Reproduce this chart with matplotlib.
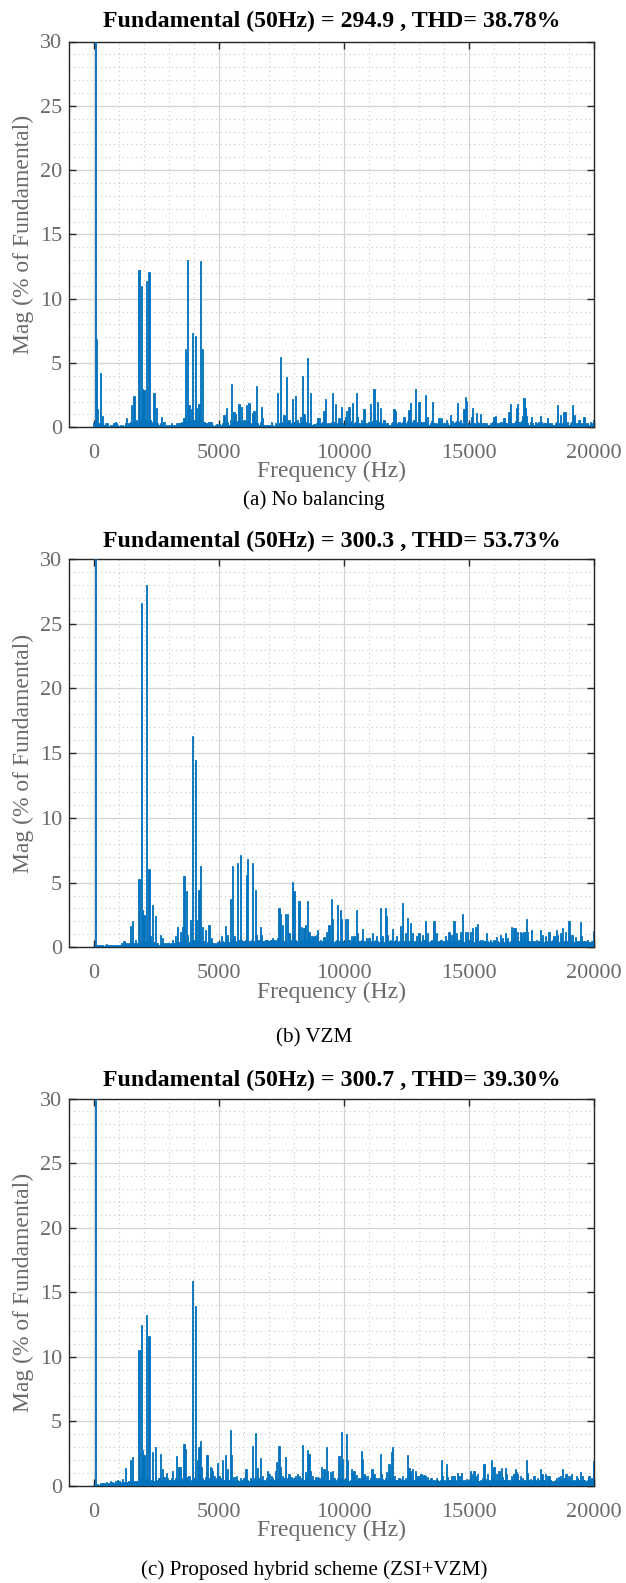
import matplotlib
matplotlib.use("Agg")
import matplotlib.pyplot as plt
from matplotlib.ticker import MultipleLocator
import numpy as np

plt.rcParams['font.family'] = ['Liberation Serif', 'DejaVu Serif']

# FFT bins, 50 Hz resolution (fundamental = bin 1 = 100 %)
freq_hz = list(range(0, 20001, 50))

mag_no_balancing = [
    0.3, 100, 6.9, 1.4, 0.3, 4.2, 0.3, 0.9, 0.2, 0.3, 0.1, 0.3, 0.1, 0.2, 0.1, 0.2, 0.3, 0.4, 0.3, 0.2,
    0.1, 0.2, 0.1, 0.2, 0.1, 0.3, 0.75, 0.2, 0.3, 0.4, 1.7, 0.3, 2.4, 0.4, 0.6, 0.3, 12.2, 0.5, 11.0, 2.95,
    2.9, 0.6, 11.4, 0.5, 12.1, 0.6, 0.3, 0.4, 2.65, 0.3, 1.5, 0.3, 0.2, 0.3, 0.8, 0.2, 0.4, 0.1, 0.2, 0.1,
    0.2, 0.1, 0.3, 0.2, 0.2, 0.1, 0.3, 0.2, 0.35, 0.3, 0.4, 0.3, 0.7, 6.1, 0.4, 13.0, 1.7, 0.5, 1.4, 7.3,
    0.6, 7.1, 1.5, 0.5, 1.85, 12.9, 0.6, 6.1, 0.45, 0.3, 0.3, 0.2, 0.45, 0.4, 0.45, 0.2, 0.1, 0.2, 0.25, 0.2,
    0.25, 0.1, 0.2, 0.3, 0.95, 0.3, 1.5, 0.4, 0.2, 0.6, 3.35, 0.4, 1.2, 1.05, 0.3, 0.5, 1.8, 0.4, 1.6, 0.3,
    0.6, 0.3, 1.75, 0.5, 1.9, 0.3, 0.2, 1.1, 1.3, 0.4, 3.2, 0.3, 0.2, 0.4, 1.6, 0.7, 0.2, 0.1, 0.2, 0.15,
    0.2, 0.1, 0.4, 0.2, 0.1, 0.3, 0.2, 2.7, 0.3, 5.5, 0.4, 0.3, 0.95, 0.3, 3.9, 0.4, 0.6, 0.2, 0.3, 2.2,
    0.4, 2.45, 0.3, 0.6, 0.3, 0.8, 0.3, 4.0, 1.05, 0.3, 0.4, 5.35, 0.3, 2.7, 0.2, 0.2, 0.25, 0.2, 0.3, 0.7,
    0.7, 0.3, 0.2, 0.4, 1.3, 2.2, 0.35, 0.2, 0.3, 0.2, 0.4, 2.65, 0.4, 1.85, 0.3, 0.2, 0.7, 0.3, 1.6, 0.3,
    0.2, 0.8, 1.3, 0.4, 1.55, 0.3, 0.5, 1.9, 0.3, 0.4, 2.7, 0.8, 0.3, 0.2, 0.55, 0.3, 1.4, 0.3, 0.3, 0.2,
    0.4, 1.85, 0.3, 0.5, 2.95, 0.6, 0.3, 1.95, 0.4, 1.5, 0.3, 0.2, 0.6, 0.2, 0.3, 0.3, 0.2, 0.1, 0.3, 0.4,
    1.4, 1.3, 0.3, 0.2, 0.45, 0.3, 0.2, 0.4, 0.8, 0.3, 0.2, 0.5, 1.35, 1.9, 0.4, 0.3, 0.6, 3.0, 0.4, 0.3,
    1.95, 0.4, 0.45, 0.3, 0.4, 2.55, 0.3, 0.8, 0.2, 0.3, 0.5, 1.95, 0.3, 0.2, 0.3, 0.2, 0.75, 0.3, 0.7, 0.2,
    0.3, 0.2, 0.6, 0.3, 0.2, 0.95, 0.3, 0.5, 0.3, 0.4, 0.5, 1.9, 0.4, 0.6, 0.3, 0.2, 1.4, 2.35, 2.05, 0.3,
    0.2, 0.3, 0.8, 1.5, 0.3, 0.2, 1.1, 0.4, 0.3, 1.05, 0.2, 0.3, 0.3, 0.2, 0.35, 0.2, 0.2, 0.3, 0.2, 0.4,
    0.8, 0.9, 0.3, 0.2, 0.3, 0.45, 0.2, 0.4, 0.7, 0.3, 0.3, 0.2, 1.2, 1.85, 0.35, 0.2, 0.3, 0.5, 1.5, 1.8,
    0.4, 0.3, 0.5, 0.9, 2.3, 1.5, 0.9, 0.3, 0.2, 0.4, 0.8, 0.3, 0.2, 0.45, 0.3, 0.2, 0.4, 0.9, 0.45, 0.2,
    0.3, 0.35, 0.2, 0.7, 0.3, 0.2, 0.3, 0.2, 0.2, 0.3, 0.4, 1.7, 0.3, 0.95, 0.2, 0.3, 1.2, 1.2, 0.3, 0.45,
    0.2, 0.3, 0.4, 1.7, 0.95, 0.3, 0.2, 0.3, 0.6, 0.35, 0.2, 0.3, 0.8, 0.2, 0.3, 0.35, 0.2, 0.45, 0.3, 0.2,
    0.6,
]

mag_vzm = [
    0.1, 100, 0.2, 0.15, 0.2, 0.1, 0.15, 0.2, 0.1, 0.15, 0.25, 0.1, 0.15, 0.2, 0.1, 0.2, 0.15, 0.1, 0.15, 0.1,
    0.15, 0.2, 0.3, 0.2, 0.5, 0.3, 0.35, 0.2, 0.3, 1.65, 0.4, 2.05, 0.3, 0.6, 0.2, 0.3, 5.25, 0.5, 26.6, 2.85,
    2.5, 0.4, 28.0, 0.5, 6.05, 0.85, 0.3, 3.25, 0.4, 2.4, 0.3, 0.35, 0.2, 0.95, 0.3, 0.7, 0.3, 0.2, 0.35, 0.3,
    0.3, 0.25, 0.3, 0.6, 0.3, 0.85, 0.4, 1.55, 0.4, 1.15, 0.5, 1.55, 5.5, 0.6, 4.35, 0.95, 0.4, 2.1, 0.5, 16.3,
    0.6, 14.5, 2.1, 0.5, 4.45, 6.3, 0.4, 1.6, 0.5, 1.35, 0.3, 0.4, 1.75, 0.4, 0.7, 0.3, 0.35, 0.2, 0.3, 0.4,
    0.4, 0.3, 0.85, 0.5, 0.4, 1.65, 0.5, 0.95, 0.4, 3.7, 0.5, 6.25, 0.9, 0.4, 0.5, 6.5, 0.6, 7.15, 0.55, 0.4,
    0.5, 0.6, 5.6, 6.85, 0.5, 0.4, 0.6, 6.55, 0.5, 4.4, 0.95, 0.5, 0.6, 1.55, 0.95, 0.5, 0.45, 0.6, 0.55, 0.6,
    0.5, 0.6, 0.55, 0.7, 0.6, 0.5, 0.6, 0.7, 3.0, 2.55, 0.6, 1.75, 0.5, 2.55, 0.4, 2.6, 1.1, 0.5, 0.6, 5.05,
    4.35, 0.55, 0.5, 0.4, 3.6, 0.5, 1.6, 0.6, 1.5, 1.75, 0.5, 3.6, 1.2, 0.6, 0.85, 0.7, 0.85, 0.5, 0.95, 1.35,
    0.5, 0.55, 0.4, 0.5, 0.8, 0.5, 1.15, 0.6, 1.75, 0.5, 3.7, 2.15, 0.4, 0.5, 0.6, 3.3, 0.5, 2.9, 2.15, 0.5,
    0.4, 2.15, 0.5, 2.2, 0.6, 0.4, 0.85, 0.5, 0.85, 0.4, 2.85, 1.1, 0.5, 0.4, 0.6, 1.4, 0.5, 0.4, 0.7, 0.5,
    0.7, 0.4, 0.5, 1.1, 0.5, 0.6, 0.9, 0.5, 0.4, 3.0, 0.5, 0.9, 0.4, 3.05, 2.45, 0.95, 0.5, 0.6, 0.4, 1.4,
    0.5, 0.6, 0.85, 0.4, 0.5, 1.65, 0.6, 3.4, 0.5, 1.1, 0.4, 2.25, 0.5, 1.9, 0.6, 1.1, 0.5, 0.4, 0.85, 0.5,
    1.1, 0.5, 0.4, 0.95, 0.6, 2.0, 0.5, 1.1, 0.4, 0.5, 0.6, 0.4, 2.0, 0.5, 1.1, 0.4, 0.5, 0.6, 0.55, 0.4,
    0.5, 0.85, 0.4, 0.6, 1.2, 0.5, 0.95, 0.4, 2.0, 0.5, 1.1, 0.4, 0.6, 1.15, 0.5, 2.55, 0.4, 1.2, 0.5, 1.2,
    0.6, 1.2, 0.5, 1.5, 0.4, 1.55, 0.6, 1.8, 0.5, 0.55, 0.4, 0.6, 0.5, 0.4, 1.1, 0.5, 0.4, 0.55, 0.4, 0.3,
    0.6, 0.4, 0.8, 0.5, 0.4, 0.95, 0.5, 0.7, 0.4, 1.1, 0.5, 0.7, 0.4, 0.5, 1.55, 0.6, 1.5, 1.5, 0.5, 1.15,
    0.5, 1.2, 1.1, 0.6, 1.2, 0.5, 2.15, 1.15, 0.5, 0.4, 1.35, 0.5, 0.45, 0.3, 0.55, 0.4, 0.5, 1.35, 0.5, 0.95,
    0.4, 0.85, 0.5, 0.4, 1.2, 0.5, 0.4, 0.55, 0.9, 0.5, 1.35, 0.95, 0.4, 1.1, 0.95, 1.5, 0.5, 1.2, 0.5, 0.4,
    2.0, 0.95, 0.5, 0.95, 0.4, 0.8, 0.5, 0.4, 0.5, 1.95, 0.85, 0.4, 0.5, 0.5, 0.3, 0.55, 0.4, 0.3, 0.45, 0.5,
    1.25,
]

mag_hybrid = [
    0.1, 100, 0.1, 0.15, 0.1, 0.2, 0.15, 0.25, 0.2, 0.1, 0.3, 0.15, 0.2, 0.4, 0.2, 0.3, 0.2, 0.35, 0.2, 0.5,
    0.35, 0.3, 0.2, 0.55, 0.3, 1.4, 0.3, 0.2, 0.4, 2.05, 0.5, 2.25, 0.4, 0.3, 0.4, 0.3, 10.5, 0.6, 12.5, 2.8,
    2.4, 0.5, 13.25, 0.6, 11.65, 0.4, 0.5, 2.6, 0.4, 3.0, 0.5, 0.4, 0.6, 2.5, 0.5, 1.35, 0.7, 0.4, 1.0, 0.6,
    0.5, 0.4, 0.6, 1.2, 0.5, 0.6, 2.3, 0.5, 1.45, 1.45, 0.6, 0.5, 3.25, 2.9, 0.7, 0.5, 0.8, 0.4, 0.5, 15.9,
    0.6, 13.9, 0.5, 2.0, 3.0, 3.5, 1.45, 0.6, 0.5, 0.7, 2.4, 2.4, 0.6, 1.5, 1.4, 1.2, 0.8, 0.5, 0.6, 1.75,
    0.8, 0.5, 0.6, 2.05, 0.5, 2.4, 0.6, 1.35, 0.5, 4.3, 2.4, 0.5, 0.7, 0.4, 0.8, 0.5, 0.4, 0.6, 0.4, 0.5,
    0.6, 1.35, 1.35, 0.5, 0.4, 0.6, 0.5, 3.1, 0.6, 4.1, 0.5, 1.4, 0.6, 2.2, 0.5, 0.8, 0.5, 0.4, 0.6, 1.2,
    0.95, 0.5, 0.8, 0.6, 0.5, 1.15, 1.85, 0.6, 3.1, 1.45, 0.5, 0.75, 0.6, 2.25, 0.5, 0.6, 0.95, 0.5, 0.7, 0.5,
    0.6, 0.8, 0.5, 0.9, 0.8, 0.5, 0.6, 3.15, 0.5, 1.05, 0.6, 2.8, 2.5, 1.2, 0.5, 0.8, 0.5, 0.7, 0.5, 0.7,
    0.6, 0.5, 1.45, 0.6, 1.35, 0.5, 3.05, 1.2, 0.5, 1.05, 0.6, 1.2, 0.6, 0.5, 0.4, 0.6, 2.3, 0.6, 4.2, 2.1,
    0.5, 0.6, 4.0, 2.05, 0.4, 0.5, 1.35, 1.0, 1.2, 0.5, 0.85, 0.5, 0.6, 0.5, 2.7, 2.1, 0.95, 0.8, 0.5, 0.75,
    0.5, 0.6, 1.35, 1.35, 0.95, 0.5, 0.6, 0.5, 0.6, 2.45, 0.95, 0.55, 0.5, 0.6, 1.05, 0.5, 1.7, 0.6, 2.65, 3.0,
    0.75, 0.45, 0.5, 0.45, 0.6, 0.55, 0.4, 0.8, 0.5, 0.6, 0.5, 2.4, 1.4, 1.2, 0.8, 1.35, 0.5, 1.2, 0.8, 0.6,
    0.8, 0.9, 0.95, 0.6, 0.85, 0.75, 0.5, 0.7, 0.5, 0.6, 0.6, 0.4, 0.5, 0.4, 0.6, 0.5, 0.4, 0.5, 2.0, 0.8,
    0.5, 0.4, 1.7, 0.7, 0.45, 0.5, 0.8, 0.5, 0.8, 0.4, 0.5, 1.0, 0.75, 0.5, 1.0, 0.4, 0.5, 0.3, 0.55, 0.4,
    0.5, 1.2, 0.95, 0.4, 1.2, 0.75, 0.5, 0.9, 0.4, 0.5, 0.4, 0.6, 1.7, 0.55, 0.4, 0.95, 0.5, 0.4, 2.0, 0.7,
    1.45, 0.5, 0.95, 0.4, 1.2, 0.5, 1.4, 0.7, 0.5, 1.4, 0.95, 0.5, 0.45, 0.4, 0.8, 0.5, 0.95, 1.35, 1.05, 0.95,
    0.5, 0.8, 0.4, 0.6, 0.5, 0.4, 2.0, 1.0, 0.5, 0.55, 0.45, 0.4, 0.75, 0.5, 0.4, 0.6, 0.5, 1.35, 0.95, 0.9,
    0.5, 0.95, 0.4, 0.8, 0.8, 0.5, 0.4, 0.3, 0.4, 0.5, 0.6, 0.4, 0.7, 0.8, 0.5, 1.35, 0.6, 0.95, 0.95, 0.5,
    0.8, 0.5, 0.95, 0.4, 0.45, 0.3, 0.75, 0.6, 0.5, 1.05, 0.4, 0.8, 0.5, 0.4, 0.3, 0.5, 0.8, 0.4, 0.6, 0.6,
    1.9,
]

titles = [
    "Fundamental (50Hz) = 294.9 , THD= 38.78%",
    "Fundamental (50Hz) = 300.3 , THD= 53.73%",
    "Fundamental (50Hz) = 300.7 , THD= 39.30%",
]
captions = ["(a) No balancing", "(b) VZM", "(c) Proposed hybrid scheme (ZSI+VZM)"]
spectra = [mag_no_balancing, mag_vzm, mag_hybrid]

W, H = 626, 1583
fig = plt.figure(figsize=(W / 100, H / 100), dpi=100)

# axes boxes in pixels: (top, bottom)
boxes = [(41.5, 427.3), (559, 947.3), (1098.5, 1486)]
title_y = [21, 541.5, 1080]
caption_y = [500, 1038, 1570]
left, right = 69, 594

bar_col = "#0072BD"
gray = "#6a6a6a"

for i in range(3):
    top, bot = boxes[i]
    ax = fig.add_axes([left / W, 1 - bot / H, (right - left) / W, (bot - top) / H])
    ax.bar(freq_hz, spectra[i], width=42, color=bar_col, edgecolor=bar_col,
           linewidth=0.6, zorder=3)
    ax.set_xlim(-1000, 20000)
    ax.set_ylim(0, 30)
    ax.xaxis.set_major_locator(MultipleLocator(5000))
    ax.xaxis.set_minor_locator(MultipleLocator(1000))
    ax.yaxis.set_major_locator(MultipleLocator(5))
    ax.yaxis.set_minor_locator(MultipleLocator(1))
    ax.grid(which='major', color='#d4d4d4', linewidth=0.9, zorder=0)
    ax.grid(which='minor', color='#c8c8c8', linewidth=0.8, linestyle=(0, (1, 3)), zorder=0)
    ax.set_axisbelow(True)
    ax.tick_params(which='major', direction='in', length=5, width=1, color='#262626',
                   top=True, right=True, labelsize=16, labelcolor=gray)
    ax.tick_params(which='minor', length=0)
    ax.tick_params(axis='y', pad=5)
    ax.tick_params(axis='x', pad=12)
    for sp in ax.spines.values():
        sp.set_color('#262626')
        sp.set_linewidth(1.0)
    ax.set_xlabel("Frequency (Hz)", fontsize=17, color=gray)
    ax.set_ylabel("Mag (% of Fundamental)", fontsize=17, color=gray)
    ax.xaxis.set_label_coords(0.5, -0.088)
    ax.yaxis.set_label_coords(-0.066, 0.5)

    fig.text(331.5 / W, 1 - title_y[i] / H, titles[i], ha='center', va='center',
             fontsize=17.2, fontweight='bold', color='black')
    fig.text(314 / W, 1 - caption_y[i] / H, captions[i], ha='center', va='center',
             fontsize=15.2, color='black')

fig.savefig("out.png", dpi=100)
